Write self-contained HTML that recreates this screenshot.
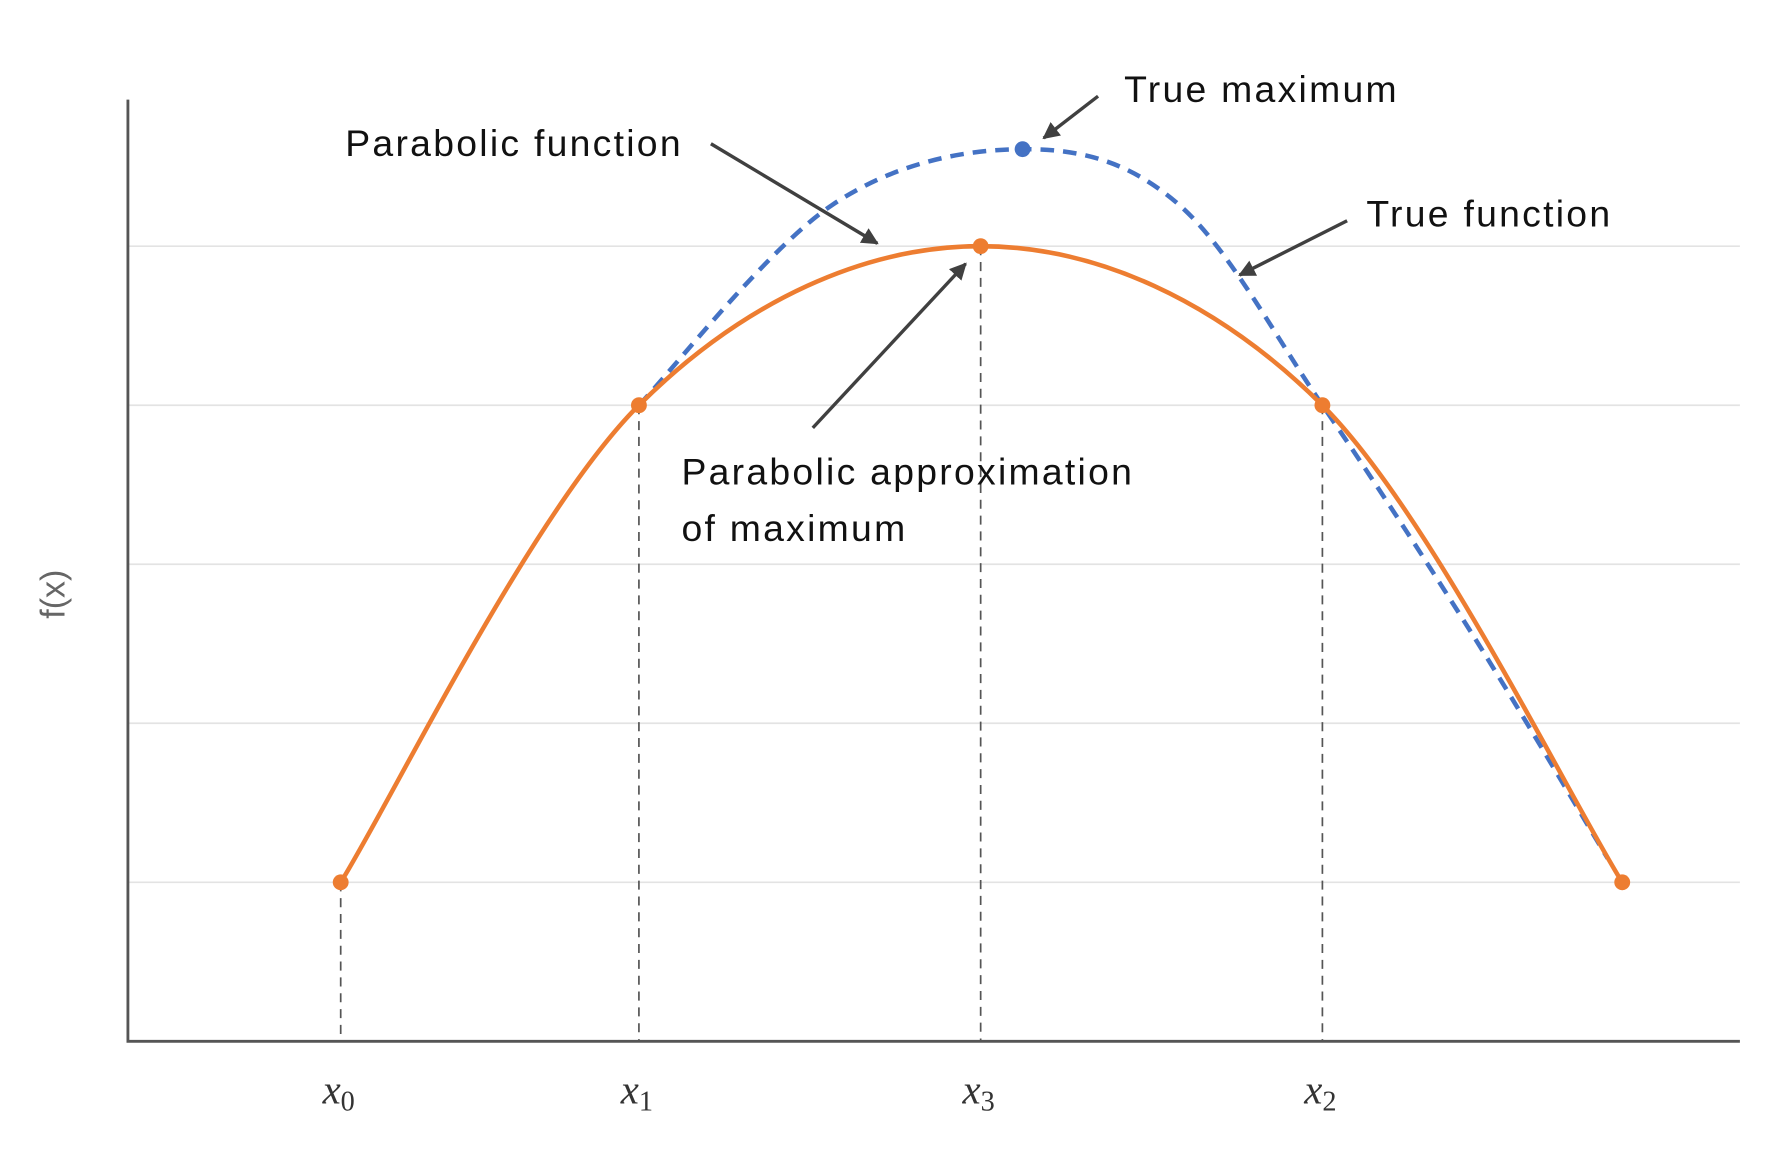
<!DOCTYPE html>
<html><head><meta charset="utf-8"><style>html,body{margin:0;padding:0;background:#fff}svg{display:block}</style></head>
<body>
<svg id="chart" width="1775" height="1150" viewBox="0 0 1568 1016" preserveAspectRatio="none" xmlns="http://www.w3.org/2000/svg">
<defs><marker id="ah" viewBox="0 0 10 10" refX="9" refY="5" markerWidth="5" markerHeight="5" orient="auto"><path d="M0,0 L10,5 L0,10 z" fill="#404040"/></marker></defs>
<g id="grid"></g><g id="drops"></g><g id="series"></g><g id="axes"></g><g id="labels"></g>
</svg>
<script>
const gridLevels=[1,2,3,4,5];
const pointLabels=['0','1','3','2',''];
const pointX=[1.32,3.17,5.29,7.41,9.27];
const pointY=[1,4,5,4,1];
const trueCurveX=[3.17,4.37,5.55,6.51,7.41,8.34,9.18];
const trueCurveY=[4,5.26,5.61,5.27,4,2.56,1.15];
const trueMaxX=[5.55];
const trueMaxY=[5.61];
const NS='http://www.w3.org/2000/svg';
const sx=v=>113+v*142.4, sy=v=>920-v*140.5;
function el(t,a,p){const e=document.createElementNS(NS,t);for(const k in a)e.setAttribute(k,a[k]);document.getElementById(p).appendChild(e);return e;}
gridLevels.forEach(g=>{const l=el('line',{x1:113,x2:1537,y1:sy(g),y2:sy(g),stroke:'#e3e3e3','stroke-width':1.5},'grid');

});
pointX.slice(0,4).forEach((x,i)=>{const l=el('line',{x1:sx(x),x2:sx(x),y1:sy(pointY[i]),y2:920,stroke:'#555','stroke-width':1.5,'stroke-dasharray':'8,6'},'drops');

});
function spline(px,py){let d='M'+px[0]+','+py[0];for(let i=0;i<px.length-1;i++){const x0=px[Math.max(i-1,0)],y0=py[Math.max(i-1,0)],x3=px[Math.min(i+2,px.length-1)],y3=py[Math.min(i+2,px.length-1)];const c1x=px[i]+(px[i+1]-x0)/6,c1y=py[i]+(py[i+1]-y0)/6,c2x=px[i+1]-(x3-px[i])/6,c2y=py[i+1]-(y3-py[i])/6;d+=` C${c1x},${c1y} ${c2x},${c2y} ${px[i+1]},${py[i+1]}`;}return d;}
const b=el('path',{d:spline(trueCurveX.map(sx),trueCurveY.map(sy)),fill:'none',stroke:'#4472c4','stroke-width':4,'stroke-dasharray':'12,8'},'series');


const o=el('path',{d:spline(pointX.map(sx),pointY.map(sy)),fill:'none',stroke:'#ed7d31','stroke-width':4},'series');


pointX.forEach((x,i)=>{const c=el('circle',{cx:sx(x),cy:sy(pointY[i]),r:7,fill:'#ed7d31'},'series');


if(pointLabels[i]){const t=el('text',{x:sx(x)-16,y:975,'font-family':'Liberation Serif, serif','font-style':'italic','font-size':36,fill:'#333'},'labels');t.innerHTML='x<tspan font-size="25" dy="6" font-style="normal">'+pointLabels[i]+'</tspan>';

}});
trueMaxX.forEach((x,i)=>{const c=el('circle',{cx:sx(x),cy:sy(trueMaxY[i]),r:7,fill:'#4472c4'},'series');

});
const ax=el('path',{d:'M113,88 L113,920 L1537,920',fill:'none',stroke:'#555','stroke-width':2.5},'axes');


const anns=[['True maximum',993,90,970,85,922,122],['Parabolic function',305,138,628,127,775,215],['True function',1207,200,1190,195,1095,243],['Parabolic approximation',602,428,718,378,853,233]];
anns.forEach(a=>{const t=el('text',{x:a[1],y:a[2],'font-family':'Liberation Sans, sans-serif','font-size':33,'letter-spacing':2,fill:'#111'},'labels');t.textContent=a[0];


const l=el('line',{x1:a[3],y1:a[4],x2:a[5],y2:a[6],stroke:'#404040','stroke-width':3,'marker-end':'url(#ah)'},'labels');

});
const t2=el('text',{x:602,y:478,'font-family':'Liberation Sans, sans-serif','font-size':33,'letter-spacing':2,fill:'#111'},'labels');t2.textContent='of maximum';


const yt=el('text',{x:0,y:0,transform:'translate(57,525) rotate(-90)','text-anchor':'middle','font-family':'Liberation Sans, sans-serif','font-size':30,fill:'#666'},'labels');yt.textContent='f(x)';


</script>
</body></html>
